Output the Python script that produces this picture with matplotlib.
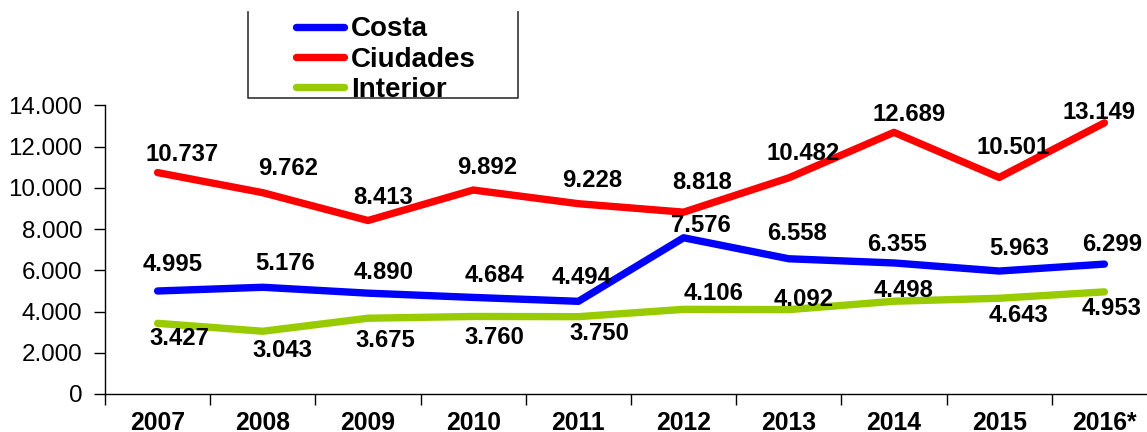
import matplotlib
matplotlib.use('Agg')
import numpy as np
import matplotlib.pyplot as plt
from matplotlib.lines import Line2D
from matplotlib.ticker import FixedLocator, FixedFormatter, NullFormatter, FuncFormatter

# ---- data ----
years = ['2007', '2008', '2009', '2010', '2011', '2012', '2013', '2014', '2015', '2016*']
costa = [4995, 5176, 4890, 4684, 4494, 7576, 6558, 6355, 5963, 6299]
ciudades = [10737, 9762, 8413, 9892, 9228, 8818, 10482, 12689, 10501, 13149]
interior = [3427, 3043, 3675, 3760, 3750, 4106, 4092, 4498, 4643, 4953]
series_names = ['Costa', 'Ciudades', 'Interior']
y_ticks = [0, 2000, 4000, 6000, 8000, 10000, 12000, 14000]

# ---- label placement (pixel offsets from each point) ----
costa_off = [(15.5, 26), (22.5, 24), (15.5, 21), (21.5, 22), (3.5, 24),
             (17.5, 12.6), (8.5, 25.6), (2.5, 18.8), (19.5, 23), (7.5, 20)]
ciudades_off = [(24.5, 18.4), (25.5, 24.5), (15.5, 23.3), (13.5, 22.8), (13.5, 23.5),
                (18.5, 30), (14.5, 24.6), (15.5, 18), (13.5, 30), (-5.5, 10.6)]
interior_off = [(21.5, -14.7), (19.5, -18.8), (17.5, -21.9), (21.5, -20.6), (21.5, -16.4),
                (29.5, 16.2), (14.5, 10.5), (9.5, 11.1), (19.5, -16.8), (7.5, -16.2)]

colors = ['#0000FF', '#FF0000', '#99CC00']
FONT = 'Liberation Sans'


def fmt(v):
    return f"{int(v):,}".replace(',', '.')


W, H = 1147, 432
fig = plt.figure(figsize=(W / 100, H / 100), dpi=100)
ax = fig.add_axes([105 / W, 38 / H, 1052 / W, 288.7 / H])

x = np.arange(len(years))
handles = []
for vals, col, name, offs in zip([costa, ciudades, interior], colors, series_names,
                                 [costa_off, ciudades_off, interior_off]):
    ln, = ax.plot(x, vals, color=col, lw=5.3, solid_joinstyle='round',
                  solid_capstyle='round', label=name, zorder=3)
    handles.append(ln)
    for xi, v, (dx, dy) in zip(x, vals, offs):
        ax.annotate(fmt(v), (xi, v), xytext=(dx, dy), textcoords='offset pixels',
                    ha='center', va='center', fontsize=17.2, fontweight='bold',
                    family=FONT, color='black', zorder=4, annotation_clip=False)

ax.set_xlim(-0.5, 9.5)
ax.set_ylim(0, 14000)

# x axis: ticks at category boundaries, labels at centers
ax.xaxis.set_major_locator(FixedLocator(np.arange(-0.5, 10.0, 1.0)))
ax.xaxis.set_major_formatter(NullFormatter())
ax.xaxis.set_minor_locator(FixedLocator(x))
ax.xaxis.set_minor_formatter(FixedFormatter(years))
ax.tick_params(axis='x', which='major', length=8, width=1, direction='out', color='black')
ax.tick_params(axis='x', which='minor', length=0, pad=12, labelsize=17.8)
for lab in ax.xaxis.get_minorticklabels():
    lab.set_fontweight('bold')
    lab.set_family(FONT)

ax.set_yticks(y_ticks)
ax.yaxis.set_major_formatter(FuncFormatter(lambda v, p: fmt(v)))
ax.tick_params(axis='y', length=8, width=1, direction='out', pad=8.5, labelsize=17.4, color='black')
for lab in ax.get_yticklabels():
    lab.set_family(FONT)

for s in ['top', 'right']:
    ax.spines[s].set_visible(False)
for s in ['left', 'bottom']:
    ax.spines[s].set_linewidth(1)
    ax.spines[s].set_color('black')

# legend
fig.legend(handles, series_names, loc='upper left',
           bbox_to_anchor=(295.5 / W, 1 - 16.5 / H), bbox_transform=fig.transFigure,
           frameon=False, prop={'family': FONT, 'weight': 'bold', 'size': 20},
           handlelength=1.75, handletextpad=0.25, labelspacing=0.15,
           borderpad=0, borderaxespad=0)

# legend box (top edge cut off in the reference)
bx0, bx1, by0, by1 = 248, 518, 12, 98
fig.add_artist(Line2D([bx0 / W, bx0 / W, bx1 / W, bx1 / W],
                      [1 - by0 / H, 1 - by1 / H, 1 - by1 / H, 1 - by0 / H],
                      transform=fig.transFigure, color='#333333', lw=1.2))

fig.savefig('out.png', dpi=100)
